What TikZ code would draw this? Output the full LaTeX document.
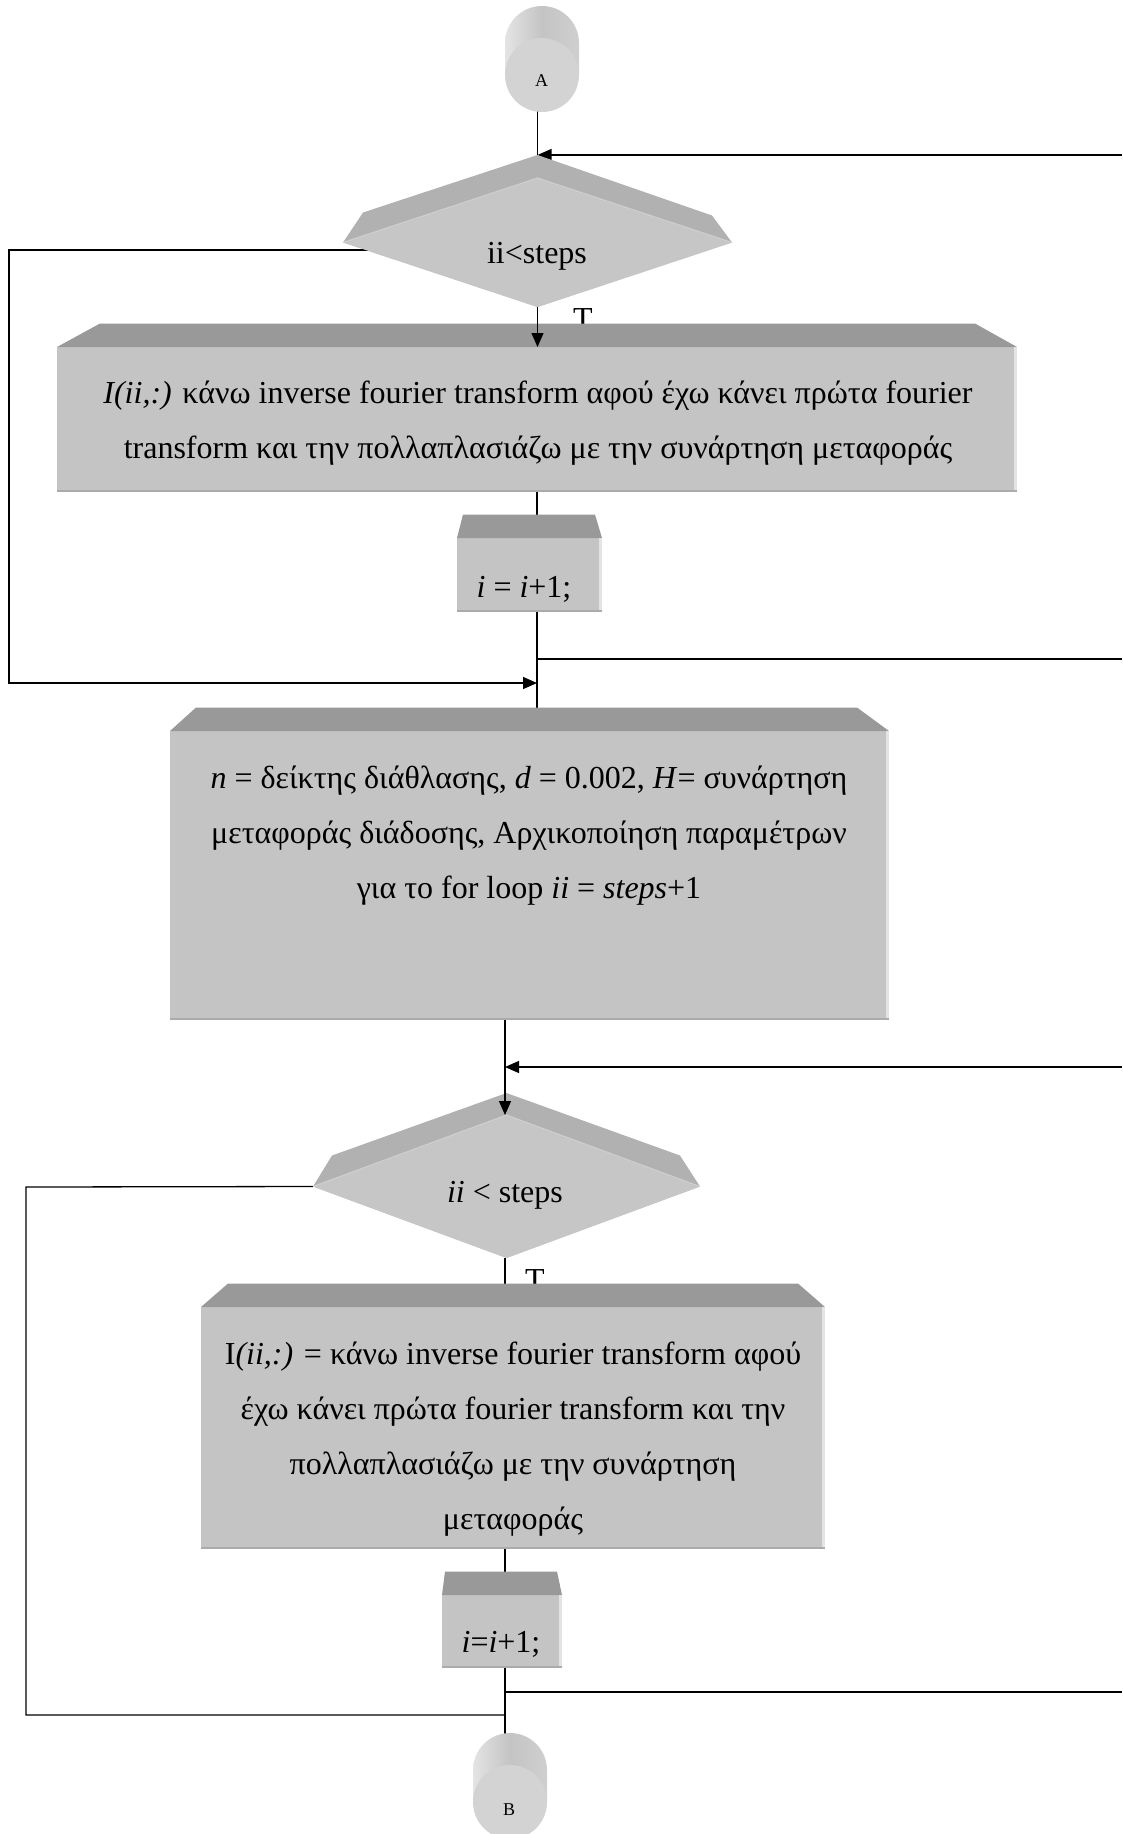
\documentclass[tikz,border=0pt]{standalone}
\usepackage{fontspec}
\setmainfont{Liberation Serif}
\usetikzlibrary{arrows.meta,shapes.geometric}

\definecolor{facegrey}{HTML}{C4C4C4}
\definecolor{bevelgrey}{HTML}{999999}
\definecolor{dfacegrey}{HTML}{C6C6C6}
\definecolor{dbevelgrey}{HTML}{B1B1B1}
\definecolor{dedge}{HTML}{D0D0D0}
\definecolor{edgelight}{HTML}{E4E4E4}
\definecolor{edgedark}{HTML}{ABABAB}
\definecolor{cylL}{HTML}{E4E4E4}
\definecolor{cylM}{HTML}{C4C4C4}
\definecolor{cylR}{HTML}{CFCFCF}
\definecolor{cylface}{HTML}{D3D3D3}

\tikzset{
  flow/.style={line width=1.3pt, black},
  arr/.style={flow, -{Triangle[length=14pt,width=12pt]}},
  face/.style={rectangle, fill=facegrey, inner sep=0pt, outer sep=0pt},
  dface/.style={diamond, fill=dfacegrey, inner sep=0pt, outer sep=0pt},
  cyl/.style={circle, fill=cylface, inner sep=0pt, outer sep=0pt, minimum size=74pt},
  txt/.style={font=\fontsize{32}{38}\selectfont, inner sep=0pt, anchor=base},
  lbl/.style={font=\fontsize{18}{20}\selectfont, inner sep=0pt, anchor=base},
}

% slanted top face of a process box: node, left inset, right inset
\newcommand\boxtop[3]{%
  \fill[bevelgrey] (#1.north west) -- ([shift={(#2,-23.5)}]#1.north west)
     -- ([shift={(-#3,-23.5)}]#1.north east) -- (#1.north east) -- cycle;
  \fill[edgelight] ([xshift=-3pt]#1.north east) rectangle (#1.south east);
  \fill[edgedark] ([yshift=2pt]#1.south west) rectangle (#1.south east);}

% slanted upper faces of a decision: node, back-left offset, apex lift, back-right offset
\newcommand\diamondtop[4]{%
  \fill[dbevelgrey] (#1.west) -- ([shift={#2}]#1.west) -- ([yshift=#3]#1.north)
     -- ([shift={#4}]#1.east) -- (#1.east) -- (#1.north) -- cycle;
  \draw[dedge, line width=1pt] (#1.west) -- (#1.north) -- (#1.east);}

% body of an off-page connector behind its round face
\newcommand\cylbody[1]{%
  \shade[left color=cylL, right color=cylR, middle color=cylM]
    ([xshift=-37pt]#1) -- ([shift={(-37pt,32pt)}]#1)
    arc[start angle=180, end angle=0, radius=37pt] -- ([xshift=37pt]#1) -- cycle;}

\begin{document}
\begin{tikzpicture}[x=1pt, y=-1pt]
\useasboundingbox (0,0) rectangle (1122,1834);
\clip (0,0) rectangle (1122,1834);

% ---- positions of the shapes
\coordinate (cApos) at (542,75);
\coordinate (cBpos) at (510,1802);
\path
  node[dface, minimum width=389pt, minimum height=129pt] (d1) at (537.5,242.5) {}
  node[face, minimum width=960pt, minimum height=145pt] (b1) at (537,419.5) {}
  node[face, minimum width=145pt, minimum height=74pt] (sb1) at (529.5,575) {}
  node[face, minimum width=719pt, minimum height=289pt] (b2) at (529.5,875.5) {}
  node[dface, minimum width=387pt, minimum height=143pt] (d2) at (506.5,1186.5) {}
  node[face, minimum width=624pt, minimum height=242pt] (b3) at (513,1428) {}
  node[face, minimum width=120pt, minimum height=73pt] (sb2) at (502,1631.5) {};

\coordinate (e1) at (1122,155);
\coordinate (l1) at (9,250);
\coordinate (j1) at (537,683);
\coordinate (e2) at (1122,659);
\coordinate (e3) at (1122,1067);
\coordinate (l2) at (26,1187);
\coordinate (j2) at (505,1715);
\coordinate (e4) at (1122,1692);

% ---- connectors behind the shapes
\draw[flow] (cApos -| d1.north) -- (d1.north);
\draw[arr] (e1) -- (e1 -| d1.north);
\draw[arr] (d1.center |- l1) -- (l1) -- (l1 |- j1) -- (j1);
\draw[flow] (b1.south) -- (b1.south |- b2.north);
\draw[flow] (e2 -| b1.south) -- (e2);
\draw[flow] (b2.south -| j2) -- (j2 |- d2.north);
\draw[arr] (e3) -- (e3 -| j2);
\draw[flow] (d2.west) -- (l2) -- (l2 |- j2) -- (j2);
\draw[flow] (d2.south -| j2) -- (j2 |- cBpos);
\draw[flow] (e4 -| j2) -- (e4);

% ---- true-branch labels, partly hidden by the boxes below
\node[txt] (t1) at (583,329) {T};
\node[txt] (t2) at (535,1290) {T};

% ---- shapes
\cylbody{cApos}
\node[cyl] (cA) at (cApos) {};
\cylbody{cBpos}
\node[cyl] (cB) at (cBpos) {};

\fill[dfacegrey] (d1.west) -- (d1.north) -- (d1.east) -- (d1.south) -- cycle;
\diamondtop{d1}{(20,-30)}{23pt}{(-20,-27)}
\fill[facegrey] (b1.north west) rectangle (b1.south east);
\boxtop{b1}{43}{42}
\fill[facegrey] (sb1.north west) rectangle (sb1.south east);
\boxtop{sb1}{6}{7}
\fill[facegrey] (b2.north west) rectangle (b2.south east);
\boxtop{b2}{26}{32}
\fill[dfacegrey] (d2.west) -- (d2.north) -- (d2.east) -- (d2.south) -- cycle;
\diamondtop{d2}{(19,-31)}{22pt}{(-20,-31)}
\fill[facegrey] (b3.north west) rectangle (b3.south east);
\boxtop{b3}{27}{27}
\fill[facegrey] (sb2.north west) rectangle (sb2.south east);
\boxtop{sb2}{3}{5}

% ---- arrows drawn over the slanted faces
\draw[arr] (d1.south) -- (d1.south |- b1.north);
\draw[arr] (j2 |- b2.south) -- (j2 |- d2.north);

% ---- texts
\node[lbl] (tA) at (541.5,86) {A};
\node[lbl] (tB) at (509,1815) {B};

\node[txt] (q1) at (537,263) {ii<steps};
\node[txt] (p1a) at (538,403) {\textit{I(ii,:)} κάνω inverse fourier transform αφού έχω κάνει πρώτα fourier};
\node[txt] (p1b) at (538,458) {transform και την πολλαπλασιάζω με την συνάρτηση μεταφοράς};
\node[txt] (s1) at (524,597) {\textit{i} = \textit{i}+1;};

\node[txt] (p2a) at (529,788) {\textit{n} = δείκτης διάθλασης, \textit{d} = 0.002, \textit{H}= συνάρτηση};
\node[txt] (p2b) at (529,843) {μεταφοράς διάδοσης, Αρχικοποίηση παραμέτρων};
\node[txt] (p2c) at (529,898) {για το for loop \textit{ii} = \textit{steps}+1};

\node[txt] (q2) at (505,1202) {\textit{ii} < steps};
\node[txt] (p3a) at (513,1364) {I\textit{(ii,:)} = κάνω inverse fourier transform αφού};
\node[txt] (p3b) at (513,1419) {έχω κάνει πρώτα fourier transform και την};
\node[txt] (p3c) at (513,1474) {πολλαπλασιάζω με την συνάρτηση};
\node[txt] (p3d) at (513,1529) {μεταφοράς};
\node[txt] (s2) at (501,1652) {\textit{i}=\textit{i}+1;};
\end{tikzpicture}
\end{document}
